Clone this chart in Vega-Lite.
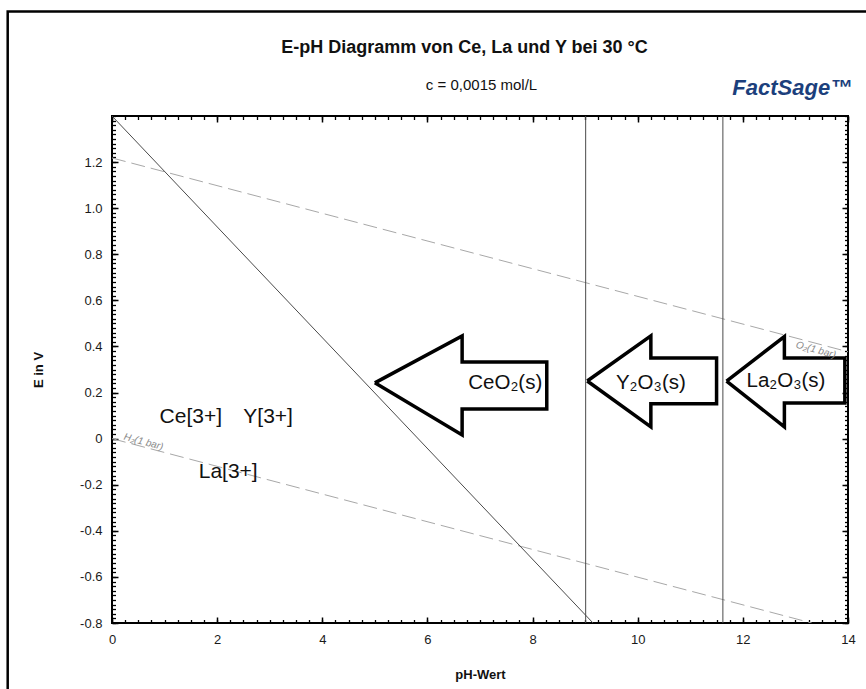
{
  "$schema": "https://vega.github.io/schema/vega-lite/v6.json",
  "width": 736,
  "height": 507,
  "autosize": "none",
  "padding": {"left": 112, "top": 116, "right": 18, "bottom": 66},
  "background": "white",
  "config": {
    "font": "Liberation Sans",
    "view": {"stroke": "black", "strokeWidth": 2},
    "axis": {
      "grid": false,
      "domain": false,
      "tickColor": "black",
      "labelFont": "Liberation Sans",
      "labelFontSize": 13,
      "labelColor": "#1a1a1a",
      "titleFont": "Liberation Sans",
      "titleFontSize": 13,
      "titleFontWeight": "bold",
      "titleColor": "#111"
    }
  },
  "datasets": {
    "lines": [
      {"line": "O2", "kind": "dash", "seq": 1, "pH": 0, "E": 1.218},
      {"line": "O2", "kind": "dash", "seq": 2, "pH": 14, "E": 0.377},
      {"line": "H2", "kind": "dash", "seq": 1, "pH": 0, "E": 0},
      {"line": "H2", "kind": "dash", "seq": 2, "pH": 13.31, "E": -0.8},
      {"line": "Ce", "kind": "solid", "seq": 1, "pH": 0, "E": 1.4},
      {"line": "Ce", "kind": "solid", "seq": 2, "pH": 9.15, "E": -0.8},
      {"line": "V1", "kind": "solid", "seq": 1, "pH": 9.01, "E": -0.8},
      {"line": "V1", "kind": "solid", "seq": 2, "pH": 9.01, "E": 1.4},
      {"line": "V2", "kind": "solid", "seq": 1, "pH": 11.62, "E": -0.8},
      {"line": "V2", "kind": "solid", "seq": 2, "pH": 11.62, "E": 1.4}
    ],
    "arrows": [
      {"arrow": "CeO2", "seq": 1, "pH": 5.0, "E": 0.242},
      {"arrow": "CeO2", "seq": 2, "pH": 6.66, "E": 0.446},
      {"arrow": "CeO2", "seq": 3, "pH": 6.66, "E": 0.333},
      {"arrow": "CeO2", "seq": 4, "pH": 8.27, "E": 0.333},
      {"arrow": "CeO2", "seq": 5, "pH": 8.27, "E": 0.129},
      {"arrow": "CeO2", "seq": 6, "pH": 6.66, "E": 0.129},
      {"arrow": "CeO2", "seq": 7, "pH": 6.66, "E": 0.016},
      {"arrow": "CeO2", "seq": 8, "pH": 5.0, "E": 0.242},
      {"arrow": "Y2O3", "seq": 1, "pH": 9.04, "E": 0.25},
      {"arrow": "Y2O3", "seq": 2, "pH": 10.25, "E": 0.446},
      {"arrow": "Y2O3", "seq": 3, "pH": 10.25, "E": 0.35},
      {"arrow": "Y2O3", "seq": 4, "pH": 11.5, "E": 0.35},
      {"arrow": "Y2O3", "seq": 5, "pH": 11.5, "E": 0.151},
      {"arrow": "Y2O3", "seq": 6, "pH": 10.25, "E": 0.151},
      {"arrow": "Y2O3", "seq": 7, "pH": 10.25, "E": 0.051},
      {"arrow": "Y2O3", "seq": 8, "pH": 9.04, "E": 0.25},
      {"arrow": "La2O3", "seq": 1, "pH": 11.69, "E": 0.25},
      {"arrow": "La2O3", "seq": 2, "pH": 12.79, "E": 0.443},
      {"arrow": "La2O3", "seq": 3, "pH": 12.79, "E": 0.35},
      {"arrow": "La2O3", "seq": 4, "pH": 13.94, "E": 0.35},
      {"arrow": "La2O3", "seq": 5, "pH": 13.94, "E": 0.155},
      {"arrow": "La2O3", "seq": 6, "pH": 12.79, "E": 0.155},
      {"arrow": "La2O3", "seq": 7, "pH": 12.79, "E": 0.051},
      {"arrow": "La2O3", "seq": 8, "pH": 11.69, "E": 0.25}
    ],
    "labels": [
      {"text": "Ce[3+]", "group": "species", "pH": 1.5, "E": 0.094},
      {"text": "Y[3+]", "group": "species", "pH": 2.97, "E": 0.094},
      {"text": "La[3+]", "group": "species", "pH": 2.21, "E": -0.144},
      {"text": "CeO₂(s)", "group": "phase", "pH": 7.48, "E": 0.242},
      {"text": "Y₂O₃(s)", "group": "phase", "pH": 10.25, "E": 0.242},
      {"text": "La₂O₃(s)", "group": "phase", "pH": 12.82, "E": 0.25},
      {"text": "H₂(1 bar)", "group": "gas", "pH": 0.6, "E": -0.014},
      {"text": "O₂(1 bar)", "group": "gas", "pH": 13.39, "E": 0.385}
    ],
    "one": [{}]
  },
  "layer": [
    {
      "data": {"name": "lines"},
      "transform": [{"filter": "datum.kind == 'dash'"}],
      "mark": {"type": "line", "color": "#a8a8a8", "strokeWidth": 1, "strokeDash": [14, 6], "clip": true},
      "encoding": {
        "x": {"field": "pH", "type": "quantitative",
          "scale": {"domain": [0, 14], "nice": false, "zero": false},
          "axis": {"orient": "bottom", "values": [0, 2, 4, 6, 8, 10, 12, 14], "format": "d",
            "tickSize": -6, "tickWidth": 1.5, "labelPadding": 16, "labelFlush": false,
            "title": "pH-Wert", "titlePadding": 22}},
        "y": {"field": "E", "type": "quantitative",
          "scale": {"domain": [-0.8, 1.4], "nice": false, "zero": false},
          "axis": {"orient": "left", "values": [-0.8, -0.6, -0.4, -0.2, 0, 0.2, 0.4, 0.6, 0.8, 1.0, 1.2],
            "labelExpr": "datum.value == 0 ? '0' : replace(format(datum.value, '.1f'), '\u2212', '-')",
            "tickSize": -6, "tickWidth": 1.5, "labelPadding": 16, "labelFlush": false,
            "title": "E in V", "titlePadding": 34}},
        "detail": {"field": "line"},
        "order": {"field": "seq"}
      }
    },
    {
      "data": {"name": "lines"},
      "transform": [{"filter": "datum.kind == 'solid'"}],
      "mark": {"type": "line", "color": "#4a4a4a", "strokeWidth": 1, "clip": true},
      "encoding": {
        "x": {"field": "pH", "type": "quantitative",
          "scale": {"domain": [0, 14], "nice": false, "zero": false},
          "axis": {"orient": "bottom", "labels": false, "tickSize": -3.5, "tickWidth": 1.3, "title": null,
            "values": [0,0.25,0.5,0.75,1,1.25,1.5,1.75,2,2.25,2.5,2.75,3,3.25,3.5,3.75,4,4.25,4.5,4.75,5,5.25,5.5,5.75,6,6.25,6.5,6.75,7,7.25,7.5,7.75,8,8.25,8.5,8.75,9,9.25,9.5,9.75,10,10.25,10.5,10.75,11,11.25,11.5,11.75,12,12.25,12.5,12.75,13,13.25,13.5,13.75,14]}},
        "y": {"field": "E", "type": "quantitative",
          "scale": {"domain": [-0.8, 1.4], "nice": false, "zero": false},
          "axis": {"orient": "left", "labels": false, "tickSize": -3.5, "tickWidth": 1.3, "title": null, "tickCount": 110}},
        "detail": {"field": "line"},
        "order": {"field": "seq"}
      }
    },
    {
      "data": {"name": "arrows"},
      "mark": {"type": "line", "color": "black", "strokeWidth": 3.5, "strokeJoin": "miter", "clip": false},
      "encoding": {
        "x": {"field": "pH", "type": "quantitative",
          "scale": {"domain": [0, 14], "nice": false, "zero": false},
          "axis": {"orient": "top", "labels": false, "values": [0, 2, 4, 6, 8, 10, 12, 14],
            "tickSize": -6, "tickWidth": 1.5,
            "title": "c = 0,0015 mol/L", "titleFontWeight": "normal", "titleFontSize": 15, "titlePadding": 23, "titleX": 369}},
        "y": {"field": "E", "type": "quantitative",
          "scale": {"domain": [-0.8, 1.4], "nice": false, "zero": false},
          "axis": {"orient": "right", "labels": false, "values": [-0.8, -0.6, -0.4, -0.2, 0, 0.2, 0.4, 0.6, 0.8, 1.0, 1.2],
            "tickSize": -6, "tickWidth": 1.5, "title": null}},
        "detail": {"field": "arrow"},
        "order": {"field": "seq"}
      }
    },
    {
      "data": {"name": "labels"},
      "transform": [{"filter": "datum.group == 'species'"}],
      "mark": {"type": "text", "fontSize": 21, "color": "#111", "align": "center", "baseline": "middle"},
      "encoding": {
        "x": {"field": "pH", "type": "quantitative",
          "scale": {"domain": [0, 14], "nice": false, "zero": false},
          "axis": {"orient": "top", "labels": false, "tickSize": -3.5, "tickWidth": 1.3,
            "title": "E-pH Diagramm von Ce, La und Y bei 30 °C", "titleFontSize": 18, "titleFontWeight": "bold",
            "titlePadding": 59, "titleX": 352,
            "values": [0,0.25,0.5,0.75,1,1.25,1.5,1.75,2,2.25,2.5,2.75,3,3.25,3.5,3.75,4,4.25,4.5,4.75,5,5.25,5.5,5.75,6,6.25,6.5,6.75,7,7.25,7.5,7.75,8,8.25,8.5,8.75,9,9.25,9.5,9.75,10,10.25,10.5,10.75,11,11.25,11.5,11.75,12,12.25,12.5,12.75,13,13.25,13.5,13.75,14]}},
        "y": {"field": "E", "type": "quantitative",
          "scale": {"domain": [-0.8, 1.4], "nice": false, "zero": false},
          "axis": {"orient": "right", "labels": false, "tickSize": -3.5, "tickWidth": 1.3, "title": null, "tickCount": 110}},
        "text": {"field": "text"}
      }
    },
    {
      "data": {"name": "labels"},
      "transform": [{"filter": "datum.group == 'phase'"}],
      "mark": {"type": "text", "fontSize": 20.5, "color": "#111", "align": "center", "baseline": "middle"},
      "encoding": {
        "x": {"field": "pH", "type": "quantitative", "scale": {"domain": [0, 14], "nice": false, "zero": false}, "axis": null},
        "y": {"field": "E", "type": "quantitative", "scale": {"domain": [-0.8, 1.4], "nice": false, "zero": false}, "axis": null},
        "text": {"field": "text"}
      }
    },
    {
      "data": {"name": "labels"},
      "transform": [{"filter": "datum.group == 'gas'"}],
      "mark": {"type": "text", "fontSize": 10, "fontStyle": "italic", "color": "#8a8a8a", "align": "center", "baseline": "middle", "angle": 15},
      "encoding": {
        "x": {"field": "pH", "type": "quantitative", "scale": {"domain": [0, 14], "nice": false, "zero": false}, "axis": null},
        "y": {"field": "E", "type": "quantitative", "scale": {"domain": [-0.8, 1.4], "nice": false, "zero": false}, "axis": null},
        "text": {"field": "text"}
      }
    },
    {
      "data": {"name": "one"},
      "mark": {"type": "text", "text": "FactSage™", "fontSize": 22, "fontWeight": "bold", "fontStyle": "italic", "color": "#1c3f7c", "align": "center", "baseline": "middle", "clip": false},
      "encoding": {
        "x": {"datum": 12.94, "type": "quantitative", "scale": {"domain": [0, 14], "nice": false, "zero": false}, "axis": null},
        "y": {"datum": 1.52, "type": "quantitative", "scale": {"domain": [-0.8, 1.4], "nice": false, "zero": false}, "axis": null}
      }
    },
    {
      "data": {"name": "one"},
      "mark": {"type": "rect", "fillOpacity": 0, "stroke": "black", "strokeWidth": 2.5, "clip": false},
      "encoding": {
        "x": {"datum": -1.984, "type": "quantitative", "scale": {"domain": [0, 14], "nice": false, "zero": false}, "axis": null},
        "x2": {"datum": 17},
        "y": {"datum": 1.853, "type": "quantitative", "scale": {"domain": [-0.8, 1.4], "nice": false, "zero": false}, "axis": null},
        "y2": {"datum": -1.5}
      }
    }
  ],
  "resolve": {"axis": {"x": "independent", "y": "independent"}}
}
